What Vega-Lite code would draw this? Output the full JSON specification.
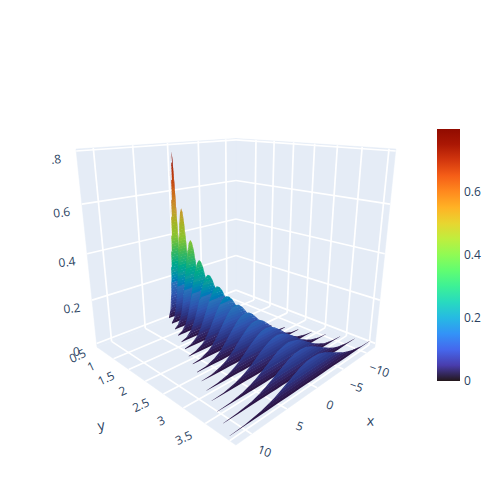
{"$schema":"https://vega.github.io/schema/vega-lite/v6.json","width":500,"height":500,"padding":0,"autosize":{"type":"none"},"background":"white","config":{"view":{"stroke":null}},
"data":{"values":[
{"kind":"wall","id":"floor","ord":0,"x":-12,"y":-0.095,"z":-0.017},{"kind":"wall","id":"floor","ord":1,"x":12,"y":-0.095,"z":-0.017},{"kind":"wall","id":"floor","ord":2,"x":12,"y":3.62,"z":-0.017},{"kind":"wall","id":"floor","ord":3,"x":-12,"y":3.62,"z":-0.017},
{"kind":"wall","id":"left","ord":0,"x":-12,"y":-0.095,"z":-0.017},{"kind":"wall","id":"left","ord":1,"x":12,"y":-0.095,"z":-0.017},{"kind":"wall","id":"left","ord":2,"x":12,"y":-0.095,"z":0.807},{"kind":"wall","id":"left","ord":3,"x":-12,"y":-0.095,"z":0.807},
{"kind":"wall","id":"right","ord":0,"x":-12,"y":-0.095,"z":-0.017},{"kind":"wall","id":"right","ord":1,"x":-12,"y":3.62,"z":-0.017},{"kind":"wall","id":"right","ord":2,"x":-12,"y":3.62,"z":0.807},{"kind":"wall","id":"right","ord":3,"x":-12,"y":-0.095,"z":0.807},
{"kind":"grid","id":"f1","x":-10,"y":-0.095,"z":-0.017},{"kind":"grid","id":"f1","x":-10,"y":3.62,"z":-0.017},
{"kind":"grid","id":"f2","x":-5,"y":-0.095,"z":-0.017},{"kind":"grid","id":"f2","x":-5,"y":3.62,"z":-0.017},
{"kind":"grid","id":"f3","x":0,"y":-0.095,"z":-0.017},{"kind":"grid","id":"f3","x":0,"y":3.62,"z":-0.017},
{"kind":"grid","id":"f4","x":5,"y":-0.095,"z":-0.017},{"kind":"grid","id":"f4","x":5,"y":3.62,"z":-0.017},
{"kind":"grid","id":"f5","x":10,"y":-0.095,"z":-0.017},{"kind":"grid","id":"f5","x":10,"y":3.62,"z":-0.017},
{"kind":"grid","id":"f6","x":-12,"y":0.5,"z":-0.017},{"kind":"grid","id":"f6","x":12,"y":0.5,"z":-0.017},
{"kind":"grid","id":"f7","x":-12,"y":1,"z":-0.017},{"kind":"grid","id":"f7","x":12,"y":1,"z":-0.017},
{"kind":"grid","id":"f8","x":-12,"y":1.5,"z":-0.017},{"kind":"grid","id":"f8","x":12,"y":1.5,"z":-0.017},
{"kind":"grid","id":"f9","x":-12,"y":2,"z":-0.017},{"kind":"grid","id":"f9","x":12,"y":2,"z":-0.017},
{"kind":"grid","id":"f10","x":-12,"y":2.5,"z":-0.017},{"kind":"grid","id":"f10","x":12,"y":2.5,"z":-0.017},
{"kind":"grid","id":"f11","x":-12,"y":3,"z":-0.017},{"kind":"grid","id":"f11","x":12,"y":3,"z":-0.017},
{"kind":"grid","id":"f12","x":-12,"y":3.5,"z":-0.017},{"kind":"grid","id":"f12","x":12,"y":3.5,"z":-0.017},
{"kind":"grid","id":"l1","x":-10,"y":-0.095,"z":-0.017},{"kind":"grid","id":"l1","x":-10,"y":-0.095,"z":0.807},
{"kind":"grid","id":"l2","x":-5,"y":-0.095,"z":-0.017},{"kind":"grid","id":"l2","x":-5,"y":-0.095,"z":0.807},
{"kind":"grid","id":"l3","x":0,"y":-0.095,"z":-0.017},{"kind":"grid","id":"l3","x":0,"y":-0.095,"z":0.807},
{"kind":"grid","id":"l4","x":5,"y":-0.095,"z":-0.017},{"kind":"grid","id":"l4","x":5,"y":-0.095,"z":0.807},
{"kind":"grid","id":"l5","x":10,"y":-0.095,"z":-0.017},{"kind":"grid","id":"l5","x":10,"y":-0.095,"z":0.807},
{"kind":"grid","id":"l6","x":-12,"y":-0.095,"z":0},{"kind":"grid","id":"l6","x":12,"y":-0.095,"z":0},
{"kind":"grid","id":"l7","x":-12,"y":-0.095,"z":0.2},{"kind":"grid","id":"l7","x":12,"y":-0.095,"z":0.2},
{"kind":"grid","id":"l8","x":-12,"y":-0.095,"z":0.4},{"kind":"grid","id":"l8","x":12,"y":-0.095,"z":0.4},
{"kind":"grid","id":"l9","x":-12,"y":-0.095,"z":0.6},{"kind":"grid","id":"l9","x":12,"y":-0.095,"z":0.6},
{"kind":"grid","id":"l10","x":-12,"y":-0.095,"z":0.8},{"kind":"grid","id":"l10","x":12,"y":-0.095,"z":0.8},
{"kind":"grid","id":"r1","x":-12,"y":0.5,"z":-0.017},{"kind":"grid","id":"r1","x":-12,"y":0.5,"z":0.807},
{"kind":"grid","id":"r2","x":-12,"y":1,"z":-0.017},{"kind":"grid","id":"r2","x":-12,"y":1,"z":0.807},
{"kind":"grid","id":"r3","x":-12,"y":1.5,"z":-0.017},{"kind":"grid","id":"r3","x":-12,"y":1.5,"z":0.807},
{"kind":"grid","id":"r4","x":-12,"y":2,"z":-0.017},{"kind":"grid","id":"r4","x":-12,"y":2,"z":0.807},
{"kind":"grid","id":"r5","x":-12,"y":2.5,"z":-0.017},{"kind":"grid","id":"r5","x":-12,"y":2.5,"z":0.807},
{"kind":"grid","id":"r6","x":-12,"y":3,"z":-0.017},{"kind":"grid","id":"r6","x":-12,"y":3,"z":0.807},
{"kind":"grid","id":"r7","x":-12,"y":3.5,"z":-0.017},{"kind":"grid","id":"r7","x":-12,"y":3.5,"z":0.807},
{"kind":"grid","id":"r8","x":-12,"y":-0.095,"z":0},{"kind":"grid","id":"r8","x":-12,"y":3.62,"z":0},
{"kind":"grid","id":"r9","x":-12,"y":-0.095,"z":0.2},{"kind":"grid","id":"r9","x":-12,"y":3.62,"z":0.2},
{"kind":"grid","id":"r10","x":-12,"y":-0.095,"z":0.4},{"kind":"grid","id":"r10","x":-12,"y":3.62,"z":0.4},
{"kind":"grid","id":"r11","x":-12,"y":-0.095,"z":0.6},{"kind":"grid","id":"r11","x":-12,"y":3.62,"z":0.6},
{"kind":"grid","id":"r12","x":-12,"y":-0.095,"z":0.8},{"kind":"grid","id":"r12","x":-12,"y":3.62,"z":0.8},
{"kind":"ytick","label":"0.5","x":12,"y":0.5,"z":-0.017},{"kind":"ytick","label":"1","x":12,"y":1,"z":-0.017},{"kind":"ytick","label":"1.5","x":12,"y":1.5,"z":-0.017},{"kind":"ytick","label":"2","x":12,"y":2,"z":-0.017},{"kind":"ytick","label":"2.5","x":12,"y":2.5,"z":-0.017},{"kind":"ytick","label":"3","x":12,"y":3,"z":-0.017},{"kind":"ytick","label":"3.5","x":12,"y":3.5,"z":-0.017},
{"kind":"xtick","label":"−10","x":-10,"y":3.62,"z":-0.017},{"kind":"xtick","label":"−5","x":-5,"y":3.62,"z":-0.017},{"kind":"xtick","label":"0","x":0,"y":3.62,"z":-0.017},{"kind":"xtick","label":"5","x":5,"y":3.62,"z":-0.017},{"kind":"xtick","label":"10","x":10,"y":3.62,"z":-0.017},
{"kind":"ztick","label":"0","x":12,"y":-0.095,"z":0},{"kind":"ztick","label":"0.2","x":12,"y":-0.095,"z":0.2},{"kind":"ztick","label":"0.4","x":12,"y":-0.095,"z":0.4},{"kind":"ztick","label":"0.6","x":12,"y":-0.095,"z":0.6},{"kind":"ztick","label":".8","x":12,"y":-0.095,"z":0.8},
{"kind":"ytitle","label":"y","x":12,"y":2,"z":-0.017},{"kind":"xtitle","label":"x","x":0,"y":3.62,"z":-0.017},
{"kind":"fin","y":0,"x":-1.5,"z":0.009},{"kind":"fin","y":0,"x":-1.25,"z":0.035},{"kind":"fin","y":0,"x":-1,"z":0.108},{"kind":"fin","y":0,"x":-0.875,"z":0.173},{"kind":"fin","y":0,"x":-0.75,"z":0.259},{"kind":"fin","y":0,"x":-0.625,"z":0.365},{"kind":"fin","y":0,"x":-0.5,"z":0.484},{"kind":"fin","y":0,"x":-0.375,"z":0.602},{"kind":"fin","y":0,"x":-0.25,"z":0.704},{"kind":"fin","y":0,"x":-0.125,"z":0.773},{"kind":"fin","y":0,"x":0,"z":0.798},{"kind":"fin","y":0,"x":0.125,"z":0.773},{"kind":"fin","y":0,"x":0.25,"z":0.704},{"kind":"fin","y":0,"x":0.375,"z":0.602},{"kind":"fin","y":0,"x":0.5,"z":0.484},{"kind":"fin","y":0,"x":0.625,"z":0.365},{"kind":"fin","y":0,"x":0.75,"z":0.259},{"kind":"fin","y":0,"x":0.875,"z":0.173},{"kind":"fin","y":0,"x":1,"z":0.108},{"kind":"fin","y":0,"x":1.25,"z":0.035},{"kind":"fin","y":0,"x":1.5,"z":0.009},
{"kind":"fin","y":0.25,"x":-2.25,"z":0.006},{"kind":"fin","y":0.25,"x":-1.875,"z":0.023},{"kind":"fin","y":0.25,"x":-1.5,"z":0.072},{"kind":"fin","y":0.25,"x":-1.31,"z":0.115},{"kind":"fin","y":0.25,"x":-1.125,"z":0.173},{"kind":"fin","y":0.25,"x":-0.94,"z":0.243},{"kind":"fin","y":0.25,"x":-0.75,"z":0.323},{"kind":"fin","y":0.25,"x":-0.56,"z":0.401},{"kind":"fin","y":0.25,"x":-0.375,"z":0.469},{"kind":"fin","y":0.25,"x":-0.19,"z":0.516},{"kind":"fin","y":0.25,"x":0,"z":0.532},{"kind":"fin","y":0.25,"x":0.19,"z":0.516},{"kind":"fin","y":0.25,"x":0.375,"z":0.469},{"kind":"fin","y":0.25,"x":0.56,"z":0.401},{"kind":"fin","y":0.25,"x":0.75,"z":0.323},{"kind":"fin","y":0.25,"x":0.94,"z":0.243},{"kind":"fin","y":0.25,"x":1.125,"z":0.173},{"kind":"fin","y":0.25,"x":1.31,"z":0.115},{"kind":"fin","y":0.25,"x":1.5,"z":0.072},{"kind":"fin","y":0.25,"x":1.875,"z":0.023},{"kind":"fin","y":0.25,"x":2.25,"z":0.006},
{"kind":"fin","y":0.5,"x":-3,"z":0.004},{"kind":"fin","y":0.5,"x":-2.5,"z":0.018},{"kind":"fin","y":0.5,"x":-2,"z":0.054},{"kind":"fin","y":0.5,"x":-1.75,"z":0.086},{"kind":"fin","y":0.5,"x":-1.5,"z":0.13},{"kind":"fin","y":0.5,"x":-1.25,"z":0.183},{"kind":"fin","y":0.5,"x":-1,"z":0.242},{"kind":"fin","y":0.5,"x":-0.75,"z":0.301},{"kind":"fin","y":0.5,"x":-0.5,"z":0.352},{"kind":"fin","y":0.5,"x":-0.25,"z":0.387},{"kind":"fin","y":0.5,"x":0,"z":0.399},{"kind":"fin","y":0.5,"x":0.25,"z":0.387},{"kind":"fin","y":0.5,"x":0.5,"z":0.352},{"kind":"fin","y":0.5,"x":0.75,"z":0.301},{"kind":"fin","y":0.5,"x":1,"z":0.242},{"kind":"fin","y":0.5,"x":1.25,"z":0.183},{"kind":"fin","y":0.5,"x":1.5,"z":0.13},{"kind":"fin","y":0.5,"x":1.75,"z":0.086},{"kind":"fin","y":0.5,"x":2,"z":0.054},{"kind":"fin","y":0.5,"x":2.5,"z":0.018},{"kind":"fin","y":0.5,"x":3,"z":0.004},
{"kind":"fin","y":0.75,"x":-3.75,"z":0.004},{"kind":"fin","y":0.75,"x":-3.125,"z":0.014},{"kind":"fin","y":0.75,"x":-2.5,"z":0.043},{"kind":"fin","y":0.75,"x":-2.19,"z":0.069},{"kind":"fin","y":0.75,"x":-1.875,"z":0.104},{"kind":"fin","y":0.75,"x":-1.56,"z":0.146},{"kind":"fin","y":0.75,"x":-1.25,"z":0.194},{"kind":"fin","y":0.75,"x":-0.94,"z":0.241},{"kind":"fin","y":0.75,"x":-0.625,"z":0.282},{"kind":"fin","y":0.75,"x":-0.31,"z":0.309},{"kind":"fin","y":0.75,"x":0,"z":0.319},{"kind":"fin","y":0.75,"x":0.31,"z":0.309},{"kind":"fin","y":0.75,"x":0.625,"z":0.282},{"kind":"fin","y":0.75,"x":0.94,"z":0.241},{"kind":"fin","y":0.75,"x":1.25,"z":0.194},{"kind":"fin","y":0.75,"x":1.56,"z":0.146},{"kind":"fin","y":0.75,"x":1.875,"z":0.104},{"kind":"fin","y":0.75,"x":2.19,"z":0.069},{"kind":"fin","y":0.75,"x":2.5,"z":0.043},{"kind":"fin","y":0.75,"x":3.125,"z":0.014},{"kind":"fin","y":0.75,"x":3.75,"z":0.004},
{"kind":"fin","y":1,"x":-4.5,"z":0.003},{"kind":"fin","y":1,"x":-3.75,"z":0.012},{"kind":"fin","y":1,"x":-3,"z":0.036},{"kind":"fin","y":1,"x":-2.625,"z":0.058},{"kind":"fin","y":1,"x":-2.25,"z":0.086},{"kind":"fin","y":1,"x":-1.875,"z":0.122},{"kind":"fin","y":1,"x":-1.5,"z":0.161},{"kind":"fin","y":1,"x":-1.125,"z":0.201},{"kind":"fin","y":1,"x":-0.75,"z":0.235},{"kind":"fin","y":1,"x":-0.375,"z":0.258},{"kind":"fin","y":1,"x":0,"z":0.266},{"kind":"fin","y":1,"x":0.375,"z":0.258},{"kind":"fin","y":1,"x":0.75,"z":0.235},{"kind":"fin","y":1,"x":1.125,"z":0.201},{"kind":"fin","y":1,"x":1.5,"z":0.161},{"kind":"fin","y":1,"x":1.875,"z":0.122},{"kind":"fin","y":1,"x":2.25,"z":0.086},{"kind":"fin","y":1,"x":2.625,"z":0.058},{"kind":"fin","y":1,"x":3,"z":0.036},{"kind":"fin","y":1,"x":3.75,"z":0.012},{"kind":"fin","y":1,"x":4.5,"z":0.003},
{"kind":"fin","y":1.25,"x":-5.25,"z":0.003},{"kind":"fin","y":1.25,"x":-4.375,"z":0.01},{"kind":"fin","y":1.25,"x":-3.5,"z":0.031},{"kind":"fin","y":1.25,"x":-3.06,"z":0.049},{"kind":"fin","y":1.25,"x":-2.625,"z":0.074},{"kind":"fin","y":1.25,"x":-2.19,"z":0.104},{"kind":"fin","y":1.25,"x":-1.75,"z":0.138},{"kind":"fin","y":1.25,"x":-1.31,"z":0.172},{"kind":"fin","y":1.25,"x":-0.875,"z":0.201},{"kind":"fin","y":1.25,"x":-0.44,"z":0.221},{"kind":"fin","y":1.25,"x":0,"z":0.228},{"kind":"fin","y":1.25,"x":0.44,"z":0.221},{"kind":"fin","y":1.25,"x":0.875,"z":0.201},{"kind":"fin","y":1.25,"x":1.31,"z":0.172},{"kind":"fin","y":1.25,"x":1.75,"z":0.138},{"kind":"fin","y":1.25,"x":2.19,"z":0.104},{"kind":"fin","y":1.25,"x":2.625,"z":0.074},{"kind":"fin","y":1.25,"x":3.06,"z":0.049},{"kind":"fin","y":1.25,"x":3.5,"z":0.031},{"kind":"fin","y":1.25,"x":4.375,"z":0.01},{"kind":"fin","y":1.25,"x":5.25,"z":0.003},
{"kind":"fin","y":1.5,"x":-6,"z":0.002},{"kind":"fin","y":1.5,"x":-5,"z":0.009},{"kind":"fin","y":1.5,"x":-4,"z":0.027},{"kind":"fin","y":1.5,"x":-3.5,"z":0.043},{"kind":"fin","y":1.5,"x":-3,"z":0.065},{"kind":"fin","y":1.5,"x":-2.5,"z":0.091},{"kind":"fin","y":1.5,"x":-2,"z":0.121},{"kind":"fin","y":1.5,"x":-1.5,"z":0.151},{"kind":"fin","y":1.5,"x":-1,"z":0.176},{"kind":"fin","y":1.5,"x":-0.5,"z":0.193},{"kind":"fin","y":1.5,"x":0,"z":0.199},{"kind":"fin","y":1.5,"x":0.5,"z":0.193},{"kind":"fin","y":1.5,"x":1,"z":0.176},{"kind":"fin","y":1.5,"x":1.5,"z":0.151},{"kind":"fin","y":1.5,"x":2,"z":0.121},{"kind":"fin","y":1.5,"x":2.5,"z":0.091},{"kind":"fin","y":1.5,"x":3,"z":0.065},{"kind":"fin","y":1.5,"x":3.5,"z":0.043},{"kind":"fin","y":1.5,"x":4,"z":0.027},{"kind":"fin","y":1.5,"x":5,"z":0.009},{"kind":"fin","y":1.5,"x":6,"z":0.002},
{"kind":"fin","y":1.75,"x":-6.75,"z":0.002},{"kind":"fin","y":1.75,"x":-5.625,"z":0.008},{"kind":"fin","y":1.75,"x":-4.5,"z":0.024},{"kind":"fin","y":1.75,"x":-3.94,"z":0.038},{"kind":"fin","y":1.75,"x":-3.375,"z":0.058},{"kind":"fin","y":1.75,"x":-2.81,"z":0.081},{"kind":"fin","y":1.75,"x":-2.25,"z":0.108},{"kind":"fin","y":1.75,"x":-1.69,"z":0.134},{"kind":"fin","y":1.75,"x":-1.125,"z":0.156},{"kind":"fin","y":1.75,"x":-0.56,"z":0.172},{"kind":"fin","y":1.75,"x":0,"z":0.177},{"kind":"fin","y":1.75,"x":0.56,"z":0.172},{"kind":"fin","y":1.75,"x":1.125,"z":0.156},{"kind":"fin","y":1.75,"x":1.69,"z":0.134},{"kind":"fin","y":1.75,"x":2.25,"z":0.108},{"kind":"fin","y":1.75,"x":2.81,"z":0.081},{"kind":"fin","y":1.75,"x":3.375,"z":0.058},{"kind":"fin","y":1.75,"x":3.94,"z":0.038},{"kind":"fin","y":1.75,"x":4.5,"z":0.024},{"kind":"fin","y":1.75,"x":5.625,"z":0.008},{"kind":"fin","y":1.75,"x":6.75,"z":0.002},
{"kind":"fin","y":2,"x":-7.5,"z":0.002},{"kind":"fin","y":2,"x":-6.25,"z":0.007},{"kind":"fin","y":2,"x":-5,"z":0.022},{"kind":"fin","y":2,"x":-4.375,"z":0.035},{"kind":"fin","y":2,"x":-3.75,"z":0.052},{"kind":"fin","y":2,"x":-3.125,"z":0.073},{"kind":"fin","y":2,"x":-2.5,"z":0.097},{"kind":"fin","y":2,"x":-1.875,"z":0.12},{"kind":"fin","y":2,"x":-1.25,"z":0.141},{"kind":"fin","y":2,"x":-0.625,"z":0.155},{"kind":"fin","y":2,"x":0,"z":0.16},{"kind":"fin","y":2,"x":0.625,"z":0.155},{"kind":"fin","y":2,"x":1.25,"z":0.141},{"kind":"fin","y":2,"x":1.875,"z":0.12},{"kind":"fin","y":2,"x":2.5,"z":0.097},{"kind":"fin","y":2,"x":3.125,"z":0.073},{"kind":"fin","y":2,"x":3.75,"z":0.052},{"kind":"fin","y":2,"x":4.375,"z":0.035},{"kind":"fin","y":2,"x":5,"z":0.022},{"kind":"fin","y":2,"x":6.25,"z":0.007},{"kind":"fin","y":2,"x":7.5,"z":0.002},
{"kind":"fin","y":2.25,"x":-8.25,"z":0.002},{"kind":"fin","y":2.25,"x":-6.875,"z":0.006},{"kind":"fin","y":2.25,"x":-5.5,"z":0.02},{"kind":"fin","y":2.25,"x":-4.81,"z":0.031},{"kind":"fin","y":2.25,"x":-4.125,"z":0.047},{"kind":"fin","y":2.25,"x":-3.44,"z":0.066},{"kind":"fin","y":2.25,"x":-2.75,"z":0.088},{"kind":"fin","y":2.25,"x":-2.06,"z":0.109},{"kind":"fin","y":2.25,"x":-1.375,"z":0.128},{"kind":"fin","y":2.25,"x":-0.69,"z":0.141},{"kind":"fin","y":2.25,"x":0,"z":0.145},{"kind":"fin","y":2.25,"x":0.69,"z":0.141},{"kind":"fin","y":2.25,"x":1.375,"z":0.128},{"kind":"fin","y":2.25,"x":2.06,"z":0.109},{"kind":"fin","y":2.25,"x":2.75,"z":0.088},{"kind":"fin","y":2.25,"x":3.44,"z":0.066},{"kind":"fin","y":2.25,"x":4.125,"z":0.047},{"kind":"fin","y":2.25,"x":4.81,"z":0.031},{"kind":"fin","y":2.25,"x":5.5,"z":0.02},{"kind":"fin","y":2.25,"x":6.875,"z":0.006},{"kind":"fin","y":2.25,"x":8.25,"z":0.002},
{"kind":"fin","y":2.5,"x":-9,"z":0.001},{"kind":"fin","y":2.5,"x":-7.5,"z":0.006},{"kind":"fin","y":2.5,"x":-6,"z":0.018},{"kind":"fin","y":2.5,"x":-5.25,"z":0.029},{"kind":"fin","y":2.5,"x":-4.5,"z":0.043},{"kind":"fin","y":2.5,"x":-3.75,"z":0.061},{"kind":"fin","y":2.5,"x":-3,"z":0.081},{"kind":"fin","y":2.5,"x":-2.25,"z":0.1},{"kind":"fin","y":2.5,"x":-1.5,"z":0.117},{"kind":"fin","y":2.5,"x":-0.75,"z":0.129},{"kind":"fin","y":2.5,"x":0,"z":0.133},{"kind":"fin","y":2.5,"x":0.75,"z":0.129},{"kind":"fin","y":2.5,"x":1.5,"z":0.117},{"kind":"fin","y":2.5,"x":2.25,"z":0.1},{"kind":"fin","y":2.5,"x":3,"z":0.081},{"kind":"fin","y":2.5,"x":3.75,"z":0.061},{"kind":"fin","y":2.5,"x":4.5,"z":0.043},{"kind":"fin","y":2.5,"x":5.25,"z":0.029},{"kind":"fin","y":2.5,"x":6,"z":0.018},{"kind":"fin","y":2.5,"x":7.5,"z":0.006},{"kind":"fin","y":2.5,"x":9,"z":0.001},
{"kind":"fin","y":2.75,"x":-9.75,"z":0.001},{"kind":"fin","y":2.75,"x":-8.125,"z":0.005},{"kind":"fin","y":2.75,"x":-6.5,"z":0.017},{"kind":"fin","y":2.75,"x":-5.69,"z":0.027},{"kind":"fin","y":2.75,"x":-4.875,"z":0.04},{"kind":"fin","y":2.75,"x":-4.06,"z":0.056},{"kind":"fin","y":2.75,"x":-3.25,"z":0.074},{"kind":"fin","y":2.75,"x":-2.44,"z":0.093},{"kind":"fin","y":2.75,"x":-1.625,"z":0.108},{"kind":"fin","y":2.75,"x":-0.81,"z":0.119},{"kind":"fin","y":2.75,"x":0,"z":0.123},{"kind":"fin","y":2.75,"x":0.81,"z":0.119},{"kind":"fin","y":2.75,"x":1.625,"z":0.108},{"kind":"fin","y":2.75,"x":2.44,"z":0.093},{"kind":"fin","y":2.75,"x":3.25,"z":0.074},{"kind":"fin","y":2.75,"x":4.06,"z":0.056},{"kind":"fin","y":2.75,"x":4.875,"z":0.04},{"kind":"fin","y":2.75,"x":5.69,"z":0.027},{"kind":"fin","y":2.75,"x":6.5,"z":0.017},{"kind":"fin","y":2.75,"x":8.125,"z":0.005},{"kind":"fin","y":2.75,"x":9.75,"z":0.001},
{"kind":"fin","y":3,"x":-10.5,"z":0.001},{"kind":"fin","y":3,"x":-8.75,"z":0.005},{"kind":"fin","y":3,"x":-7,"z":0.015},{"kind":"fin","y":3,"x":-6.125,"z":0.025},{"kind":"fin","y":3,"x":-5.25,"z":0.037},{"kind":"fin","y":3,"x":-4.375,"z":0.052},{"kind":"fin","y":3,"x":-3.5,"z":0.069},{"kind":"fin","y":3,"x":-2.625,"z":0.086},{"kind":"fin","y":3,"x":-1.75,"z":0.101},{"kind":"fin","y":3,"x":-0.875,"z":0.11},{"kind":"fin","y":3,"x":0,"z":0.114},{"kind":"fin","y":3,"x":0.875,"z":0.11},{"kind":"fin","y":3,"x":1.75,"z":0.101},{"kind":"fin","y":3,"x":2.625,"z":0.086},{"kind":"fin","y":3,"x":3.5,"z":0.069},{"kind":"fin","y":3,"x":4.375,"z":0.052},{"kind":"fin","y":3,"x":5.25,"z":0.037},{"kind":"fin","y":3,"x":6.125,"z":0.025},{"kind":"fin","y":3,"x":7,"z":0.015},{"kind":"fin","y":3,"x":8.75,"z":0.005},{"kind":"fin","y":3,"x":10.5,"z":0.001},
{"kind":"fin","y":3.25,"x":-11.25,"z":0.001},{"kind":"fin","y":3.25,"x":-9.375,"z":0.005},{"kind":"fin","y":3.25,"x":-7.5,"z":0.014},{"kind":"fin","y":3.25,"x":-6.56,"z":0.023},{"kind":"fin","y":3.25,"x":-5.625,"z":0.035},{"kind":"fin","y":3.25,"x":-4.69,"z":0.049},{"kind":"fin","y":3.25,"x":-3.75,"z":0.065},{"kind":"fin","y":3.25,"x":-2.81,"z":0.08},{"kind":"fin","y":3.25,"x":-1.875,"z":0.094},{"kind":"fin","y":3.25,"x":-0.94,"z":0.103},{"kind":"fin","y":3.25,"x":0,"z":0.106},{"kind":"fin","y":3.25,"x":0.94,"z":0.103},{"kind":"fin","y":3.25,"x":1.875,"z":0.094},{"kind":"fin","y":3.25,"x":2.81,"z":0.08},{"kind":"fin","y":3.25,"x":3.75,"z":0.065},{"kind":"fin","y":3.25,"x":4.69,"z":0.049},{"kind":"fin","y":3.25,"x":5.625,"z":0.035},{"kind":"fin","y":3.25,"x":6.56,"z":0.023},{"kind":"fin","y":3.25,"x":7.5,"z":0.014},{"kind":"fin","y":3.25,"x":9.375,"z":0.005},{"kind":"fin","y":3.25,"x":11.25,"z":0.001},
{"kind":"fin","y":3.5,"x":-12,"z":0.001},{"kind":"fin","y":3.5,"x":-10,"z":0.004},{"kind":"fin","y":3.5,"x":-8,"z":0.014},{"kind":"fin","y":3.5,"x":-7,"z":0.022},{"kind":"fin","y":3.5,"x":-6,"z":0.032},{"kind":"fin","y":3.5,"x":-5,"z":0.046},{"kind":"fin","y":3.5,"x":-4,"z":0.061},{"kind":"fin","y":3.5,"x":-3,"z":0.075},{"kind":"fin","y":3.5,"x":-2,"z":0.088},{"kind":"fin","y":3.5,"x":-1,"z":0.097},{"kind":"fin","y":3.5,"x":0,"z":0.1},{"kind":"fin","y":3.5,"x":1,"z":0.097},{"kind":"fin","y":3.5,"x":2,"z":0.088},{"kind":"fin","y":3.5,"x":3,"z":0.075},{"kind":"fin","y":3.5,"x":4,"z":0.061},{"kind":"fin","y":3.5,"x":5,"z":0.046},{"kind":"fin","y":3.5,"x":6,"z":0.032},{"kind":"fin","y":3.5,"x":7,"z":0.022},{"kind":"fin","y":3.5,"x":8,"z":0.014},{"kind":"fin","y":3.5,"x":10,"z":0.004},{"kind":"fin","y":3.5,"x":12,"z":0.001}
]},
"transform":[
{"calculate":"datum.x/12","as":"u"},
{"calculate":"-0.949+0.538*datum.y","as":"v"},
{"calculate":"-0.945+2.39*datum.z","as":"w"},
{"calculate":"4.33-(datum.u+datum.v)*0.6725-datum.w*0.309","as":"d"},
{"calculate":"236+322.1*(datum.v-datum.u)/datum.d","as":"sx"},
{"calculate":"254.9-455.5*(-(datum.u+datum.v)*0.2185+0.951*datum.w)/datum.d","as":"sy"}
],
"encoding":{
"x":{"field":"sx","type":"quantitative","scale":{"domain":[0,500],"range":[0,500],"nice":false,"zero":false},"axis":null},
"y":{"field":"sy","type":"quantitative","scale":{"domain":[0,500],"range":[0,500],"nice":false,"zero":false},"axis":null}
},
"layer":[
{"transform":[{"filter":"datum.kind==='wall'"}],"mark":{"type":"line","fill":"#e5ecf6","stroke":"#e5ecf6","strokeWidth":0.5,"interpolate":"linear-closed"},"encoding":{"detail":{"field":"id","type":"nominal"},"order":{"field":"ord","type":"quantitative"}}},
{"transform":[{"filter":"datum.kind==='grid'"}],"mark":{"type":"line","stroke":"#ffffff","strokeWidth":1.7},"encoding":{"detail":{"field":"id","type":"nominal"}}},
{"transform":[
{"filter":"datum.kind==='fin'"},
{"joinaggregate":[{"op":"max","field":"z","as":"peak"}],"groupby":["y"]},
{"calculate":"sequence(0.0125,0.82,0.0125)","as":"levels"},
{"flatten":["levels"],"as":["hi"]},
{"calculate":"datum.hi-0.0125","as":"lo"},
{"filter":"datum.lo<datum.peak"},
{"calculate":"datum.hi-0.00625","as":"mid"},
{"calculate":"datum.y+'_'+datum.hi","as":"band"},
{"calculate":"-0.945+2.39*min(datum.z,datum.hi)","as":"wt"},
{"calculate":"-0.945+2.39*min(datum.z,max(datum.lo-0.002,0))","as":"wb"},
{"calculate":"4.33-(datum.u+datum.v)*0.6725-datum.wt*0.309","as":"dt"},
{"calculate":"4.33-(datum.u+datum.v)*0.6725-datum.wb*0.309","as":"db"},
{"calculate":"236+322.1*(datum.v-datum.u)/datum.dt","as":"tx"},
{"calculate":"254.9-455.5*(-(datum.u+datum.v)*0.2185+0.951*datum.wt)/datum.dt","as":"ty"},
{"calculate":"254.9-455.5*(-(datum.u+datum.v)*0.2185+0.951*datum.wb)/datum.db","as":"by"}
],"mark":{"type":"area","line":false,"opacity":1},"encoding":{
"x":{"field":"tx","type":"quantitative"},
"y":{"field":"ty","type":"quantitative"},
"y2":{"field":"by"},
"detail":{"field":"band","type":"nominal"},
"fill":{"field":"mid","type":"quantitative","legend":null,"scale":{"domain":[0,0.0567,0.1141,0.1708,0.2282,0.2849,0.3423,0.399,0.4557,0.5131,0.5698,0.6272,0.6839,0.7413,0.798],"range":["#2a1240","#2c3585","#3055b0","#2a72b8","#14999d","#1baf7b","#48ba50","#8ac42f","#a3b528","#c39e2e","#cc7c24","#c85111","#b83005","#9a1601","#7a0403"]}}
}},
{"transform":[{"filter":"datum.kind==='fin'&&datum.y===0"}],"mark":{"type":"point","size":0,"strokeWidth":0,"filled":false,"opacity":1},"encoding":{
"stroke":{"field":"z","type":"quantitative","scale":{"scheme":"turbo","domain":[0,0.798]},"legend":{"orient":"none","legendX":437,"legendY":129,"title":null,"type":"gradient","values":[0,0.2,0.4,0.6],"gradientLength":252,"gradientThickness":23,"gradientStrokeWidth":0,"gradientOpacity":1,"labelFont":"Open Sans","labelFontSize":12,"labelColor":"#2a3f5f","labelOffset":4,"labelExpr":"datum.value===0?'0':format(datum.value,'.1f')","encoding":{"labels":{"baseline":{"value":"middle"}}}}}
}},
{"transform":[{"filter":"datum.kind==='ytick'"},{"calculate":"datum.sx-33-3.3*datum.y","as":"lx"}],"mark":{"type":"text","font":"Open Sans","fontSize":12,"fill":"#2a3f5f","angle":335,"dy":-3,"align":"center","baseline":"middle"},"encoding":{"x":{"field":"lx","type":"quantitative"},"text":{"field":"label","type":"nominal"}}},
{"transform":[{"filter":"datum.kind==='xtick'"}],"mark":{"type":"text","font":"Open Sans","fontSize":12,"fill":"#2a3f5f","angle":20,"dx":18,"dy":12,"align":"center","baseline":"middle"},"encoding":{"text":{"field":"label","type":"nominal"}}},
{"transform":[{"filter":"datum.kind==='ztick'"}],"mark":{"type":"text","font":"Open Sans","fontSize":12,"fill":"#2a3f5f","angle":353,"dx":-21,"dy":6,"align":"center","baseline":"middle"},"encoding":{"text":{"field":"label","type":"nominal"}}},
{"transform":[{"filter":"datum.kind==='ytitle'"}],"mark":{"type":"text","font":"Open Sans","fontSize":14,"fill":"#2a3f5f","angle":350,"dx":-67,"dy":21,"align":"center","baseline":"middle"},"encoding":{"text":{"field":"label","type":"nominal"}}},
{"transform":[{"filter":"datum.kind==='xtitle'"}],"mark":{"type":"text","font":"Open Sans","fontSize":14,"fill":"#2a3f5f","angle":5,"dx":56,"dy":29,"align":"center","baseline":"middle"},"encoding":{"text":{"field":"label","type":"nominal"}}}
]
}
